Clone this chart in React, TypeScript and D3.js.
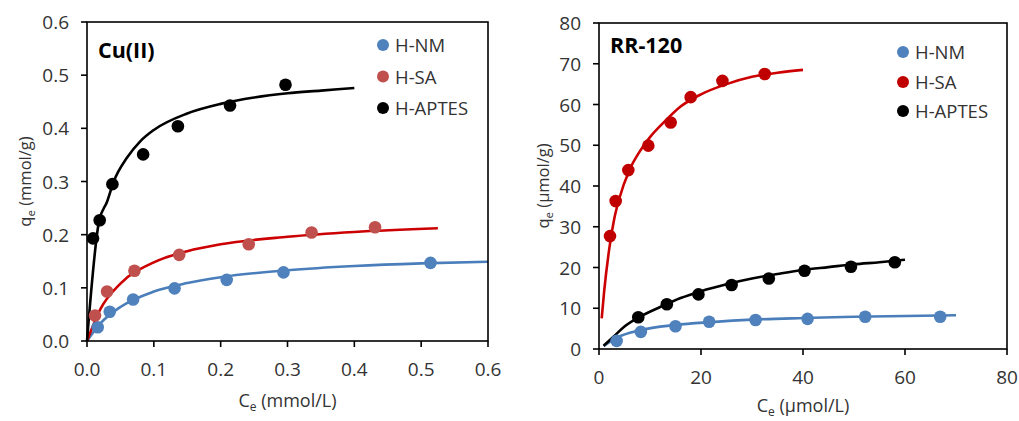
import React from "react";
import * as d3 from "d3";

// ---------- Left panel: Cu(II) ----------
const cuNM_x = [0.016, 0.034, 0.069, 0.131, 0.209, 0.294, 0.514];
const cuNM_y = [0.026, 0.055, 0.078, 0.099, 0.115, 0.129, 0.147];
const cuSA_x = [0.012, 0.030, 0.071, 0.138, 0.242, 0.336, 0.431];
const cuSA_y = [0.048, 0.093, 0.132, 0.162, 0.182, 0.204, 0.214];
const cuAP_x = [0.009, 0.019, 0.038, 0.084, 0.136, 0.214, 0.297];
const cuAP_y = [0.193, 0.227, 0.295, 0.351, 0.404, 0.443, 0.482];

// fitted curves
const cuNMfit_x = [0, 0.02, 0.05, 0.1, 0.15, 0.2, 0.3, 0.4, 0.5, 0.6];
const cuNMfit_y = [0, 0.033, 0.064, 0.093, 0.109, 0.12, 0.133, 0.141, 0.146, 0.149];
const cuSAfit_x = [0, 0.02, 0.05, 0.1, 0.15, 0.2, 0.3, 0.4, 0.525];
const cuSAfit_y = [0, 0.06, 0.108, 0.148, 0.169, 0.182, 0.196, 0.205, 0.212];
const cuAPfit_x = [0, 0.018, 0.03, 0.04, 0.06, 0.08, 0.1, 0.15, 0.2, 0.25, 0.3, 0.35, 0.4];
const cuAPfit_y = [0, 0.225, 0.262, 0.3, 0.345, 0.376, 0.397, 0.428, 0.446, 0.458, 0.466, 0.471, 0.476];

const leftXTicks = [0, 0.1, 0.2, 0.3, 0.4, 0.5, 0.6];
const leftYTicks = [0, 0.1, 0.2, 0.3, 0.4, 0.5, 0.6];

// ---------- Right panel: RR-120 ----------
const rrNM_x = [3.46, 8.2, 15.0, 21.6, 30.7, 40.9, 52.2, 66.9];
const rrNM_y = [2.0, 4.2, 5.6, 6.7, 7.1, 7.4, 7.9, 7.9];
const rrSA_x = [2.16, 3.27, 5.75, 9.67, 14.05, 17.98, 24.2, 32.5];
const rrSA_y = [27.7, 36.3, 43.9, 49.9, 55.6, 61.8, 65.8, 67.5];
const rrAP_x = [7.7, 13.3, 19.5, 26.0, 33.3, 40.3, 49.4, 58.0];
const rrAP_y = [7.8, 11.0, 13.4, 15.7, 17.3, 19.2, 20.2, 21.3];

const rrNMfit_x = [0.9, 3.5, 8, 15, 22, 30, 40, 50, 60, 70];
const rrNMfit_y = [0.7, 2.8, 4.6, 5.9, 6.6, 7.2, 7.6, 7.9, 8.1, 8.3];
const rrSAfit_x = [0.53, 1, 2, 3, 4, 6, 8, 10, 13, 16, 20, 25, 30, 35, 40];
const rrSAfit_y = [7.5, 14, 24.5, 32, 37, 44, 48.5, 52, 56, 59.5, 62.5, 65, 66.8, 67.8, 68.5];
const rrAPfit_x = [0.9, 3, 5, 8, 12, 16, 20, 25, 30, 35, 40, 45, 50, 55, 60];
const rrAPfit_y = [0.8, 3.2, 5.5, 7.9, 10.3, 12.5, 14.2, 15.9, 17.3, 18.4, 19.4, 20.1, 20.8, 21.3, 21.9];

const rightXTicks = [0, 20, 40, 60, 80];
const rightYTicks = [0, 10, 20, 30, 40, 50, 60, 70, 80];

const seriesNames = ["H-NM", "H-SA", "H-APTES"];

const FONT = "'Open Sans', 'Noto Sans', sans-serif";
const BLUE = "#4F81BD";
const BLUE_LINE = "#4A7EBB";
const RED_L = "#C0504D";
const RED_R = "#C00000";
const RED_LINE = "#CC0000";

type Ser = { xs: number[]; ys: number[]; fx: number[]; fy: number[]; marker: string; line: string };

function zip(xs: number[], ys: number[]): [number, number][] {
  return xs.map((x, i) => [x, ys[i]] as [number, number]);
}

function Panel(props: {
  x0: number; x1: number; yTop: number; yBot: number;
  xDomain: [number, number]; yDomain: [number, number];
  xTicks: number[]; yTicks: number[]; fmt: (v: number) => string;
  series: Ser[]; title: string; titleX: number; titleY: number;
  xLabelY: number; yLabelX: number; xUnit: string; yUnit: string;
  legX: number; legY: number[];
}) {
  const p = props;
  const xs = d3.scaleLinear().domain(p.xDomain).range([p.x0, p.x1]);
  const ys = d3.scaleLinear().domain(p.yDomain).range([p.yBot, p.yTop]);
  const line = d3.line<[number, number]>().x((d) => xs(d[0])).y((d) => ys(d[1])).curve(d3.curveMonotoneX);
  const drawOrder = [0, 1, 2];
  const cx = (p.x0 + p.x1) / 2;
  const cy = (p.yTop + p.yBot) / 2;
  return (
    <g fontFamily={FONT}>
      {drawOrder.map((i) => (
        <path key={"l" + i} d={line(zip(p.series[i].fx, p.series[i].fy)) || ""} fill="none"
          stroke={p.series[i].line} strokeWidth={2.6} />
      ))}
      {drawOrder.map((i) =>
        p.series[i].xs.map((x, j) => (
          <circle key={"c" + i + "-" + j} cx={xs(x)} cy={ys(p.series[i].ys[j])} r={6.3} fill={p.series[i].marker} />
        ))
      )}
      <rect x={p.x0} y={p.yTop} width={p.x1 - p.x0} height={p.yBot - p.yTop} fill="none" stroke="#000" strokeWidth={1.6} />
      {p.xTicks.map((t) => (
        <g key={"xt" + t}>
          <line x1={xs(t)} x2={xs(t)} y1={p.yBot} y2={p.yBot + 6} stroke="#000" strokeWidth={1.6} />
          <text x={xs(t)} y={p.yBot + 35} textAnchor="middle" fontSize={19} fill="#333">{p.fmt(t)}</text>
        </g>
      ))}
      {p.yTicks.map((t) => (
        <g key={"yt" + t}>
          <line x1={p.x0 - 6} x2={p.x0} y1={ys(t)} y2={ys(t)} stroke="#000" strokeWidth={1.6} />
          <text x={p.x0 - 18} y={ys(t) + 7} textAnchor="end" fontSize={19} fill="#333">{p.fmt(t)}</text>
        </g>
      ))}
      <text x={cx} y={p.xLabelY} textAnchor="middle" fontSize={18} fill="#333">
        C<tspan fontSize={12} dy={4}>e</tspan><tspan dy={-4}> ({p.xUnit}/L)</tspan>
      </text>
      <text transform={`translate(${p.yLabelX},${cy}) rotate(-90)`} textAnchor="middle" fontSize={16.5} fill="#333">
        q<tspan fontSize={11.5} dy={4}>e</tspan><tspan dy={-4}> ({p.yUnit}/g)</tspan>
      </text>
      <text x={p.titleX} y={p.titleY} fontSize={21.5} fontWeight="bold" fill="#000">{p.title}</text>
      {seriesNames.map((n, i) => (
        <g key={"lg" + n}>
          <circle cx={p.legX} cy={p.legY[i]} r={6} fill={p.series[i].marker} />
          <text x={p.legX + 12} y={p.legY[i] + 7} fontSize={18.5} fill="#333">{n}</text>
        </g>
      ))}
    </g>
  );
}

export default function App() {
  const left: Ser[] = [
    { xs: cuNM_x, ys: cuNM_y, fx: cuNMfit_x, fy: cuNMfit_y, marker: BLUE, line: BLUE_LINE },
    { xs: cuSA_x, ys: cuSA_y, fx: cuSAfit_x, fy: cuSAfit_y, marker: RED_L, line: RED_LINE },
    { xs: cuAP_x, ys: cuAP_y, fx: cuAPfit_x, fy: cuAPfit_y, marker: "#000", line: "#000" },
  ];
  const right: Ser[] = [
    { xs: rrNM_x, ys: rrNM_y, fx: rrNMfit_x, fy: rrNMfit_y, marker: BLUE, line: BLUE_LINE },
    { xs: rrSA_x, ys: rrSA_y, fx: rrSAfit_x, fy: rrSAfit_y, marker: RED_R, line: RED_LINE },
    { xs: rrAP_x, ys: rrAP_y, fx: rrAPfit_x, fy: rrAPfit_y, marker: "#000", line: "#000" },
  ];
  return (
    <svg width={1019} height={421} style={{ position: "absolute", left: 0, top: 0, background: "#fff" }}>
      <rect width={1019} height={421} fill="#fff" />
      <Panel x0={87} x1={488} yTop={22} yBot={341} xDomain={[0, 0.6]} yDomain={[0, 0.6]}
        xTicks={leftXTicks} yTicks={leftYTicks} fmt={d3.format(".1f")} series={left}
        title="Cu(II)" titleX={98} titleY={58} xLabelY={407} yLabelX={31} xUnit="mmol" yUnit="mmol"
        legX={383} legY={[45, 76.5, 108]} />
      <Panel x0={599} x1={1007} yTop={23} yBot={349} xDomain={[0, 80]} yDomain={[0, 80]}
        xTicks={rightXTicks} yTicks={rightYTicks} fmt={d3.format("d")} series={right}
        title="RR-120" titleX={610} titleY={53} xLabelY={412} yLabelX={549} xUnit="µmol" yUnit="µmol"
        legX={903} legY={[52, 82, 111]} />
    </svg>
  );
}
